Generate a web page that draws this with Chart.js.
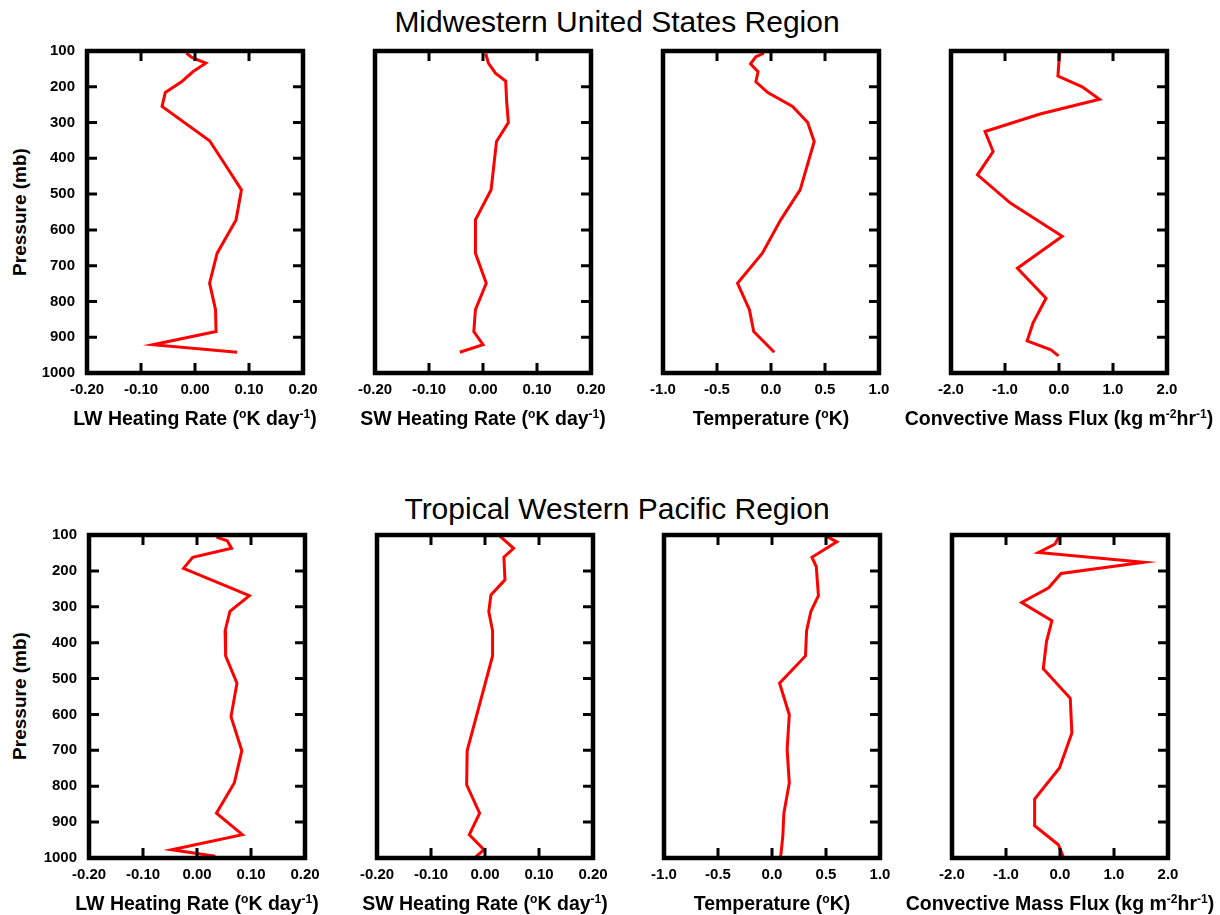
<!DOCTYPE html>
<html><head><meta charset="utf-8">
<script src="https://cdn.jsdelivr.net/npm/chart.js@4.4.1/dist/chart.umd.min.js"></script>
<style>
html,body{margin:0;padding:0;background:#fff;}
body{width:1220px;height:915px;position:relative;overflow:hidden;font-family:'Liberation Sans',Arial,Helvetica,sans-serif;color:#000;}
canvas{position:absolute;}
.rtitle{position:absolute;font-size:30px;line-height:30px;white-space:nowrap;transform:translateX(-50%);}
.xt{position:absolute;font-size:19.5px;line-height:19px;font-weight:bold;white-space:nowrap;transform:translateX(-50%);}
.yt{position:absolute;font-size:19px;line-height:19px;font-weight:bold;white-space:nowrap;transform:translate(-50%,-50%) rotate(-90deg);}
.sp{font-size:0.62em;position:relative;top:-0.6em;}
</style>
</head><body>
<script>
// ---- tick labels ----
const pressureTicks = [100, 200, 300, 400, 500, 600, 700, 800, 900, 1000];
const rateTicks = [-0.2, -0.1, 0.0, 0.1, 0.2];
const tempTicks = [-1.0, -0.5, 0.0, 0.5, 1.0];
const fluxTicks = [-2.0, -1.0, 0.0, 1.0, 2.0];

// ---- Midwestern United States Region ----
const mwLwP = [106, 118, 134, 158, 186, 216, 255, 351, 418, 488, 572, 665, 749, 823, 884, 921, 942];
const mwLwV = [-0.016, -0.006, 0.020, -0.004, -0.025, -0.055, -0.061, 0.027, 0.056, 0.086, 0.076, 0.041, 0.027, 0.038, 0.039, -0.078, 0.078];

const mwSwP = [107, 134, 162, 184, 246, 300, 353, 488, 572, 665, 749, 823, 884, 921, 942];
const mwSwV = [0.005, 0.010, 0.023, 0.042, 0.044, 0.047, 0.025, 0.015, -0.014, -0.014, 0.006, -0.014, -0.017, 0.000, -0.043];

const mwTP = [106, 116, 136, 158, 186, 216, 255, 300, 353, 488, 572, 665, 749, 823, 884, 942];
const mwTV = [-0.065, -0.14, -0.19, -0.12, -0.14, -0.03, 0.20, 0.34, 0.40, 0.27, 0.09, -0.08, -0.31, -0.20, -0.16, 0.03];

const mwCmfP = [106, 170, 200, 235, 276, 325, 381, 446, 525, 618, 707, 791, 860, 910, 935, 952];
const mwCmfV = [0.01, -0.02, 0.43, 0.75, -0.35, -1.37, -1.22, -1.51, -0.90, 0.06, -0.77, -0.24, -0.48, -0.59, -0.15, -0.01];

// ---- Tropical Western Pacific Region ----
const twLwP = [106, 116, 137, 162, 193, 269, 313, 367, 437, 513, 606, 701, 791, 875, 935, 977, 995];
const twLwV = [0.036, 0.056, 0.064, -0.008, -0.025, 0.097, 0.061, 0.052, 0.053, 0.074, 0.063, 0.083, 0.069, 0.036, 0.084, -0.047, 0.034];

const twSwP = [104, 137, 162, 225, 267, 313, 367, 437, 701, 796, 875, 935, 977, 997];
const twSwV = [0.028, 0.053, 0.035, 0.037, 0.011, 0.007, 0.014, 0.014, -0.033, -0.034, -0.010, -0.029, -0.002, -0.017];

const twTP = [101, 119, 162, 188, 269, 313, 367, 437, 513, 601, 698, 791, 875, 940, 997];
const twTV = [0.49, 0.60, 0.37, 0.41, 0.43, 0.36, 0.32, 0.31, 0.07, 0.16, 0.14, 0.16, 0.11, 0.10, 0.08];

const twCmfP = [105, 125, 149, 176, 207, 247, 288, 339, 397, 473, 555, 652, 749, 836, 910, 963, 997];
const twCmfV = [-0.02, -0.09, -0.40, 1.55, 0.02, -0.21, -0.71, -0.15, -0.25, -0.31, 0.19, 0.22, -0.01, -0.47, -0.47, -0.03, 0.06];

// ---- text ----
const regionTitles = ['Midwestern United States Region', 'Tropical Western Pacific Region'];
const xTitles = [
  'LW Heating Rate (<span class="sp">o</span>K day<span class="sp">-1</span>)',
  'SW Heating Rate (<span class="sp">o</span>K day<span class="sp">-1</span>)',
  'Temperature (<span class="sp">o</span>K)',
  'Convective Mass Flux (kg m<span class="sp">-2</span>hr<span class="sp">-1</span>)'
];
const yTitle = 'Pressure (mb)';

// ---- layout ----
const PW = 216;
const rows = [
  {top: 51, lefts: [87, 375, 663, 951], h: 322, titleTop: 7, xTitleTop: 409, pCenter: 212,
   series: [[mwLwP, mwLwV], [mwSwP, mwSwV], [mwTP, mwTV], [mwCmfP, mwCmfV]]},
  {top: 535, lefts: [89, 377, 664, 952], h: 323, titleTop: 494, xTitleTop: 894, pCenter: 696,
   series: [[twLwP, twLwV], [twSwP, twSwV], [twTP, twTV], [twCmfP, twCmfV]]}
];
const xDefs = [
  {ticks: rateTicks, dec: 2},
  {ticks: rateTicks, dec: 2},
  {ticks: tempTicks, dec: 1},
  {ticks: fluxTicks, dec: 1}
];
const LM = 70, RM = 22, TM = 12, BM = 45;

Chart.defaults.font.family = "'Liberation Sans', Arial, Helvetica, sans-serif";
Chart.defaults.color = '#000';

const frameTicks = {
  id: 'frameTicks',
  afterDatasetsDraw(chart, args, opts) {
    const {ctx, chartArea: a, scales: {x, y}} = chart;
    const L = 10;
    ctx.save();
    ctx.strokeStyle = '#000';
    ctx.lineWidth = 3;
    ctx.beginPath();
    x.ticks.forEach(t => {
      if (t.value <= x.min + 1e-9 || t.value >= x.max - 1e-9) return;
      const px = x.getPixelForValue(t.value);
      ctx.moveTo(px, a.bottom); ctx.lineTo(px, a.bottom - L);
      ctx.moveTo(px, a.top); ctx.lineTo(px, a.top + L);
    });
    y.ticks.forEach(t => {
      if (t.value <= y.min + 1e-9 || t.value >= y.max - 1e-9) return;
      const py = y.getPixelForValue(t.value);
      ctx.moveTo(a.right, py); ctx.lineTo(a.right - L, py);
      if (opts.left) { ctx.moveTo(a.left, py); ctx.lineTo(a.left + L, py); }
    });
    ctx.stroke();
    ctx.lineWidth = 4.5;
    ctx.strokeRect(a.left, a.top, a.right - a.left, a.bottom - a.top);
    ctx.restore();
  }
};

function addDiv(cls, html, left, top) {
  const d = document.createElement('div');
  d.className = cls;
  d.innerHTML = html;
  d.style.left = left + 'px';
  d.style.top = top + 'px';
  document.body.appendChild(d);
}

rows.forEach((row, r) => {
  addDiv('rtitle', regionTitles[r], 617, row.titleTop);
  addDiv('yt', yTitle, 19, row.pCenter);
  row.series.forEach((s, c) => {
    const [P, V] = s;
    const xd = xDefs[c];
    const cv = document.createElement('canvas');
    const W = LM + PW + RM, H = TM + row.h + BM;
    cv.width = W; cv.height = H;
    cv.style.left = (row.lefts[c] - LM) + 'px';
    cv.style.top = (row.top - TM) + 'px';
    cv.style.width = W + 'px'; cv.style.height = H + 'px';
    document.body.appendChild(cv);
    addDiv('xt', xTitles[c], row.lefts[c] + PW / 2, row.xTitleTop);
    const showY = (c === 0);
    new Chart(cv.getContext('2d'), {
      type: 'scatter',
      data: {datasets: [{
        data: P.map((p, i) => ({x: V[i], y: p})),
        showLine: true, borderColor: '#ff0000', backgroundColor: '#ff0000',
        borderWidth: 3, pointRadius: 0, pointHoverRadius: 0, tension: 0
      }]},
      options: {
        responsive: false, animation: false, devicePixelRatio: 1,
        layout: {padding: {top: TM, right: RM, left: 0, bottom: 0}},
        plugins: {legend: {display: false}, tooltip: {enabled: false}, title: {display: false}, frameTicks: {left: showY}},
        scales: {
          x: {
            type: 'linear', position: 'bottom', min: xd.ticks[0], max: xd.ticks[xd.ticks.length - 1],
            afterBuildTicks: sc => { sc.ticks = xd.ticks.map(v => ({value: v})); },
            ticks: {autoSkip: false, maxRotation: 0, padding: 8, font: {size: 15, weight: 'bold'},
              callback: v => (Math.abs(v) < 1e-9 ? 0 : v).toFixed(xd.dec)},
            grid: {display: false, drawTicks: false}, border: {display: false},
            afterFit: sc => { sc.height = BM; sc.paddingLeft = 0; sc.paddingRight = 0; sc.paddingTop = 0; sc.paddingBottom = 0; }
          },
          y: {
            type: 'linear', position: 'left', reverse: true, min: 100, max: 1000,
            afterBuildTicks: sc => { sc.ticks = pressureTicks.map(v => ({value: v})); },
            ticks: {display: showY, autoSkip: false, padding: 12, font: {size: 15, weight: 'bold'},
              callback: v => String(v)},
            grid: {display: false, drawTicks: false}, border: {display: false},
            afterFit: sc => { sc.width = LM; sc.paddingTop = 0; sc.paddingBottom = 0; sc.paddingLeft = 0; sc.paddingRight = 0; }
          }
        }
      },
      plugins: [frameTicks]
    });
  });
});
</script>
</body></html>
